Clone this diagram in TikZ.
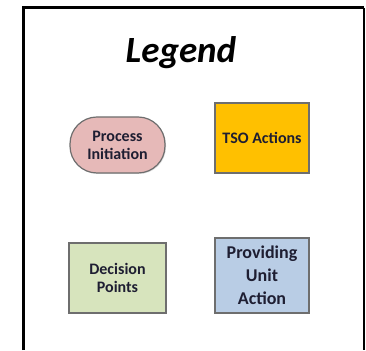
\documentclass[tikz,border=0pt]{standalone}
\usepackage{fontspec}
\setmainfont{Carlito}
\usetikzlibrary{shadows}
\definecolor{initpink}{HTML}{E6B9B8}
\definecolor{tsogold}{HTML}{FFC000}
\definecolor{decgreen}{HTML}{D7E4BD}
\definecolor{unitblue}{HTML}{B9CDE5}
\definecolor{edgegrey}{HTML}{6E6E6E}
\definecolor{inkdark}{HTML}{1E1E32}
\tikzset{
	legendbox/.style={draw=edgegrey, line width=1.2pt, align=center, text=inkdark,
		font=\bfseries\fontsize{16}{18}\selectfont, inner sep=2pt,
		drop shadow={shadow xshift=1pt, shadow yshift=-1pt, opacity=0.25}},
}
\begin{document}
\begin{tikzpicture}[x=1pt, y=1pt]
			\useasboundingbox (0,0) rectangle (366,350);
			\draw [line width=3pt] (23,0)-- (23,342)-- (364,342);
			\draw [line width=2pt] (364,342)-- (364,0);
			\node (title) at (181,297) {\fontsize{37}{40}\selectfont\bfseries\itshape Legend};
			\node [legendbox, fill=initpink, rounded corners=27pt, minimum width=95pt, minimum height=56pt] (init) at (117.5,205) {Process\\Initiation};
			\node [legendbox, fill=tsogold, minimum width=94pt, minimum height=70pt] (tso) at (262,212) {TSO Actions};
			\node [legendbox, fill=decgreen, minimum width=97pt, minimum height=70pt] (dec) at (117.5,72) {Decision\\Points};
			\node [legendbox, fill=unitblue, minimum width=94pt, minimum height=75pt, font=\bfseries\fontsize{18}{23}\selectfont] (unit) at (262,74.5) {Providing\\Unit\\Action};
		\end{tikzpicture}
\end{document}
